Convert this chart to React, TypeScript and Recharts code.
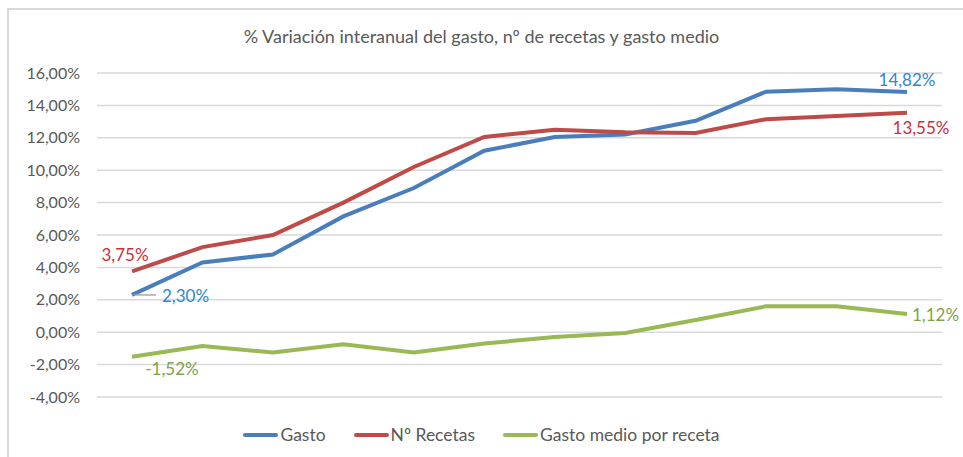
import React from "react";
import { LineChart, Line, XAxis, YAxis, CartesianGrid } from "recharts";

// 12 periods, no category labels shown on the axis
const PERIODS = ["P1", "P2", "P3", "P4", "P5", "P6", "P7", "P8", "P9", "P10", "P11", "P12"];
const GASTO = [2.3, 4.3, 4.8, 7.15, 8.9, 11.2, 12.05, 12.2, 13.05, 14.85, 15.0, 14.82];
const RECETAS = [3.75, 5.25, 6.0, 8.0, 10.2, 12.05, 12.5, 12.35, 12.3, 13.15, 13.35, 13.55];
const GASTO_MEDIO = [-1.52, -0.85, -1.25, -0.75, -1.25, -0.7, -0.3, -0.05, 0.75, 1.6, 1.6, 1.12];
const Y_TICKS = [-4, -2, 0, 2, 4, 6, 8, 10, 12, 14, 16];

const SERIES = [
  { key: "gasto", name: "Gasto", color: "#4a7ebb" },
  { key: "recetas", name: "Nº Recetas", color: "#be4b48" },
  { key: "medio", name: "Gasto medio por receta", color: "#98b954" },
];

const data = PERIODS.map((p, i) => ({
  period: p,
  gasto: GASTO[i],
  recetas: RECETAS[i],
  medio: GASTO_MEDIO[i],
}));

const FONT = "Lato, 'Open Sans', sans-serif";
const GREY = "#595959";

const fmt = (v: number) => v.toFixed(2).replace(".", ",") + "%";

type LabelOpts = { first: [number, number, string]; last: [number, number, string]; color: string; leader?: boolean };

// only the first and last point carry a label, offsets as in the original
const endLabels = (o: LabelOpts) => (props: any) => {
  const { x, y, value, index } = props;
  const last = data.length - 1;
  if (index !== 0 && index !== last) return null;
  const [dx, dy, anchor] = index === 0 ? o.first : o.last;
  return (
    <g key={`lbl-${index}`}>
      {o.leader && index === 0 && (
        <line x1={x + 2} y1={y} x2={x + 24} y2={y} stroke="#a6a6a6" strokeWidth={1.5} />
      )}
      <text
        x={x + dx}
        y={y + dy}
        fill={o.color}
        fontSize={17}
        fontFamily={FONT}
        textAnchor={anchor as any}
        dominantBaseline="central"
      >
        {fmt(value)}
      </text>
    </g>
  );
};

export default function App() {
  return (
    <div style={{ position: "absolute", left: 0, top: 0, width: 963, height: 457, background: "#fff", overflow: "hidden" }}>
      <div
        style={{
          position: "absolute",
          left: 7,
          top: 8,
          width: 980,
          height: 470,
          borderLeft: "2px solid #d9d9d9",
          borderTop: "2px solid #d9d9d9",
        }}
      />
      <div
        style={{
          position: "absolute",
          top: 25,
          left: 0,
          width: 963,
          textAlign: "center",
          fontFamily: FONT,
          fontSize: 18,
          color: GREY,
        }}
      >
        % Variación interanual del gasto, nº de recetas y gasto medio
      </div>
      <LineChart width={963} height={457} data={data} margin={{ top: 73, right: 21, bottom: 60, left: 0 }} style={{ position: "absolute", left: 0, top: 0 }}>
        <CartesianGrid vertical={false} stroke="#d9d9d9" strokeWidth={1.5} />
        <XAxis dataKey="period" hide padding={{ left: 35, right: 35 }} />
        <YAxis
          width={97}
          domain={[-4, 16]}
          ticks={Y_TICKS}
          axisLine={false}
          tickLine={false}
          tickSize={0}
          tickMargin={17}
          tickFormatter={fmt}
          tick={{ fill: GREY, fontSize: 16, fontFamily: FONT }}
          interval={0}
        />
        <Line
          name="Gasto"
          dataKey="gasto"
          stroke="#4a7ebb"
          strokeWidth={4}
          dot={false}
          isAnimationActive={false}
          label={endLabels({ first: [30, 1, "start"], last: [0, -13, "middle"], color: "#2f86cf", leader: true })}
        />
        <Line
          name="Nº Recetas"
          dataKey="recetas"
          stroke="#be4b48"
          strokeWidth={4}
          dot={false}
          isAnimationActive={false}
          label={endLabels({ first: [-7, -17, "middle"], last: [14, 15, "middle"], color: "#c7303a" })}
        />
        <Line
          name="Gasto medio por receta"
          dataKey="medio"
          stroke="#98b954"
          strokeWidth={4}
          dot={false}
          isAnimationActive={false}
          label={endLabels({ first: [40, 12, "middle"], last: [5, 0, "start"], color: "#7ea34c" })}
        />
      </LineChart>
      <div
        style={{
          position: "absolute",
          top: 424,
          left: 0,
          width: 963,
          display: "flex",
          justifyContent: "center",
          gap: 28,
          fontFamily: FONT,
          fontSize: 17.5,
          color: GREY,
        }}
      >
        {SERIES.map((s) => (
          <div key={s.key} style={{ display: "flex", alignItems: "center" }}>
            <span style={{ display: "inline-block", width: 35, height: 4, borderRadius: 2, background: s.color, marginRight: 2 }} />
            <span>{s.name}</span>
          </div>
        ))}
      </div>
    </div>
  );
}
